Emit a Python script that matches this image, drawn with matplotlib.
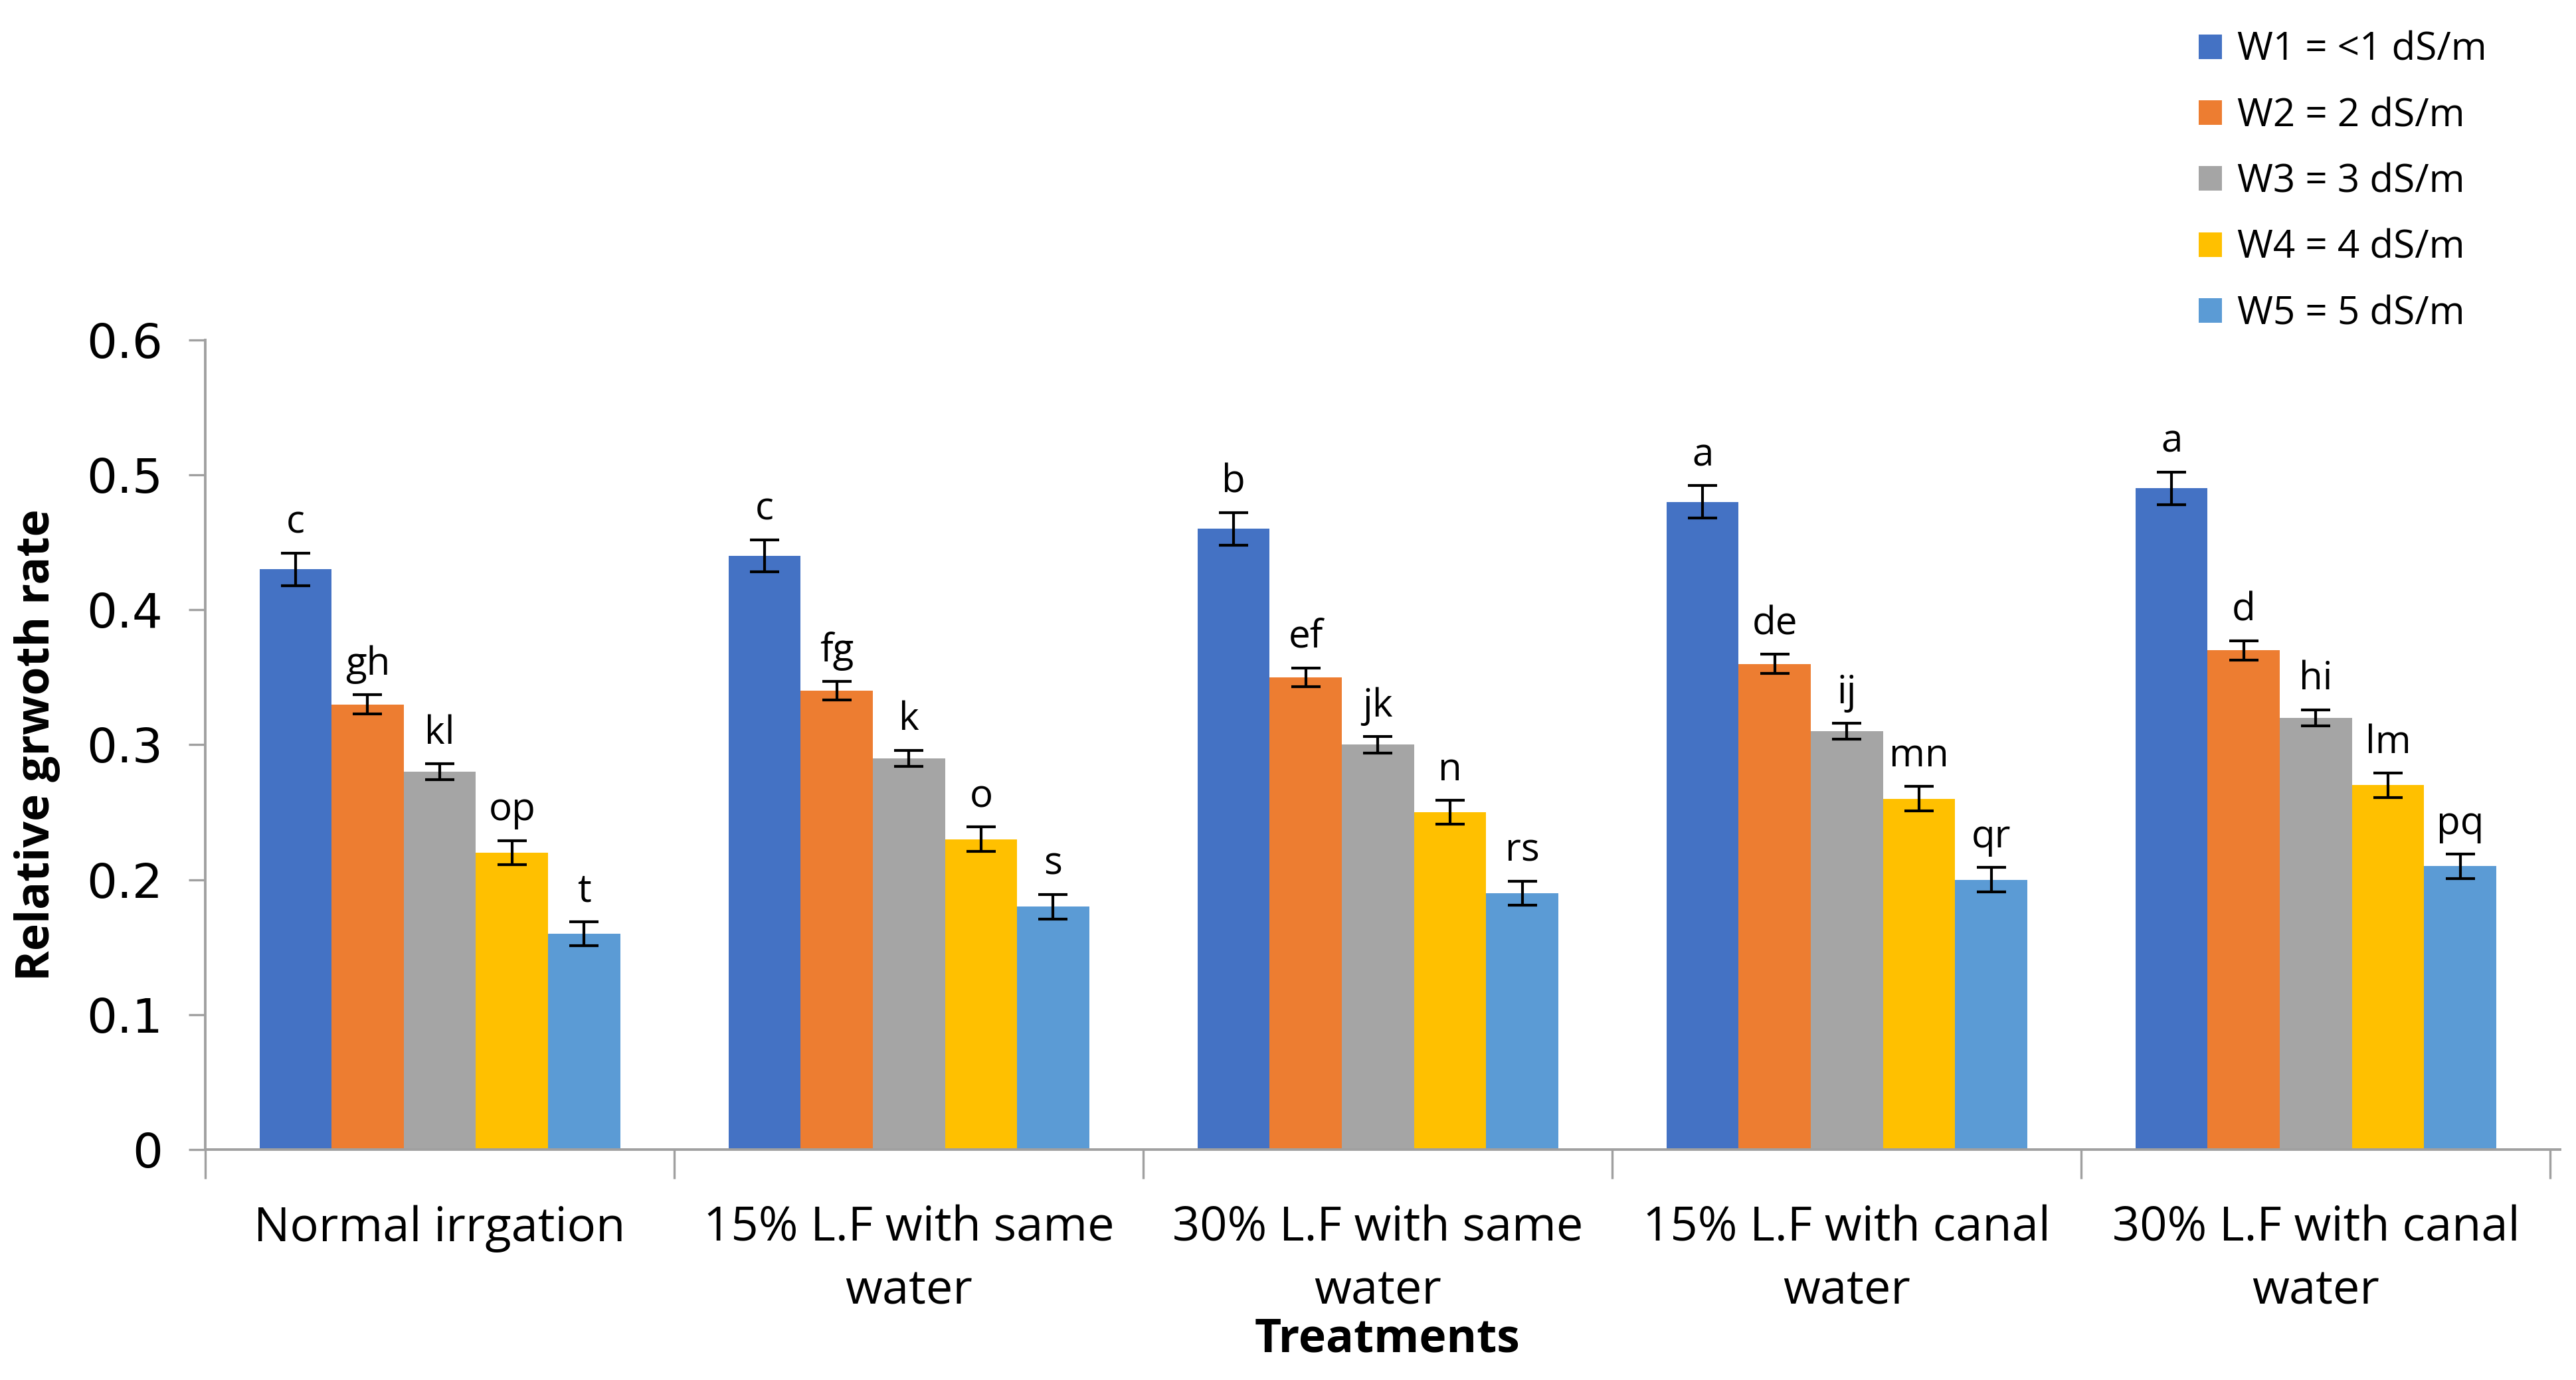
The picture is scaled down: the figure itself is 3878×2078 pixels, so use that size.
import numpy as np
import matplotlib.pyplot as plt

plt.rcParams['font.family'] = ['Open Sans', 'DejaVu Sans']

treatments = ['Normal irrgation', '15% L.F with same\nwater', '30% L.F with same\nwater',
              '15% L.F with canal\nwater', '30% L.F with canal\nwater']
series = ['W1 = <1 dS/m', 'W2 = 2 dS/m', 'W3 = 3 dS/m', 'W4 = 4 dS/m', 'W5 = 5 dS/m']
colors = ['#4472C4', '#ED7D31', '#A5A5A5', '#FFC000', '#5B9BD5']

# rows = series (W1..W5), columns = treatments
values = [
    [0.43, 0.44, 0.46, 0.48, 0.49],
    [0.33, 0.34, 0.35, 0.36, 0.37],
    [0.28, 0.29, 0.30, 0.31, 0.32],
    [0.22, 0.23, 0.25, 0.26, 0.27],
    [0.16, 0.18, 0.19, 0.20, 0.21],
]
errors = [0.012, 0.007, 0.006, 0.009, 0.009]
letters = [
    ['c', 'c', 'b', 'a', 'a'],
    ['gh', 'fg', 'ef', 'de', 'd'],
    ['kl', 'k', 'jk', 'ij', 'hi'],
    ['op', 'o', 'n', 'mn', 'lm'],
    ['t', 's', 'rs', 'qr', 'pq'],
]

fig = plt.figure(figsize=(19.39, 10.39), dpi=200)
ax = fig.add_axes([0.0797, 0.167, 0.914, 0.5866])

n = len(series)
w = 1 / (n + 1.5)
x = np.arange(len(treatments))
for i in range(n):
    pos = x - 0.5 + 0.75 * w + (i + 0.5) * w
    ax.bar(pos, values[i], width=w, color=colors[i], label=series[i],
           yerr=errors[i], error_kw=dict(ecolor='black', elinewidth=1.5, capsize=8, capthick=1.5))
    for j in range(len(treatments)):
        ax.text(pos[j], values[i][j] + errors[i] + 0.008, letters[i][j],
                ha='center', va='bottom', fontsize=21)

ax.set_ylim(0, 0.6)
ax.set_xlim(-0.5, 4.52)
ax.set_yticks(np.arange(0, 0.61, 0.1))
ax.set_yticklabels(['0', '0.1', '0.2', '0.3', '0.4', '0.5', '0.6'],
                   fontsize=26, family=['DejaVu Sans'])
ax.set_xticks(np.arange(-0.5, 4.6, 1))
ax.set_xticklabels([])
ax.set_xticks(x, minor=True)
ax.set_xticklabels(treatments, minor=True, fontsize=26, linespacing=1.42)
ax.tick_params(axis='x', which='major', length=16, width=1.2, color='#A0A0A0')
ax.tick_params(axis='x', which='minor', length=0, pad=30)
ax.tick_params(axis='y', length=9, width=1.2, color='#A0A0A0', pad=14)

for s in ['top', 'right']:
    ax.spines[s].set_visible(False)
for s in ['left', 'bottom']:
    ax.spines[s].set_color('#A0A0A0')
    ax.spines[s].set_linewidth(1.4)

ax.set_ylabel('Relative grwoth rate', fontsize=25, fontweight='bold', labelpad=14)
fig.text(0.5386, 0.029, 'Treatments', ha='center', va='center', fontsize=25, fontweight='bold')

fig.legend(loc='upper left', bbox_to_anchor=(0.84, 1.003), frameon=False, fontsize=21,
           handlelength=0.6, handleheight=0.6, handletextpad=0.4, labelspacing=0.7)

fig.savefig('out.png', dpi=200)
